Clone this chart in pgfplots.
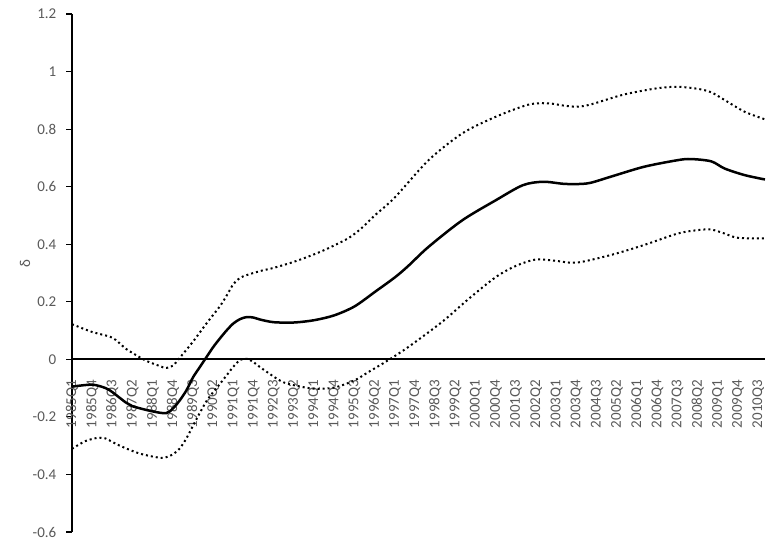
\documentclass[border=0pt]{standalone}
\usepackage{pgfplots}
\pgfplotsset{compat=1.18}
\usepackage{fontspec}
\setmainfont{Carlito}
\definecolor{lbl}{HTML}{595959}
\newcommand{\lblfont}{\fontsize{15}{18}\selectfont}
\pgfplotsset{every tick label/.append style={font=\lblfont}, every axis label/.append style={font=\lblfont}}
\begin{document}
\lblfont
\begin{tikzpicture}
\useasboundingbox (-72pt,-12pt) rectangle (697pt,532pt);
\begin{axis}[
  scale only axis, width=693pt, height=518pt,
  at={(0pt,0pt)}, anchor=south west,
  xmin=0, xmax=103, ymin=-0.6, ymax=1.2,
  axis x line*=middle, axis y line*=left,
  hide obscured x ticks=false, hide obscured y ticks=false,
  axis line style={line width=1.8pt, black},
  clip=false,
  xtick={0,3,...,102},
  xticklabels={1985Q1,1985Q4,1986Q3,1987Q2,1988Q1,1988Q4,1989Q3,1990Q2,1991Q1,1991Q4,1992Q3,1993Q2,1994Q1,1994Q4,1995Q3,1996Q2,1997Q1,1997Q4,1998Q3,1999Q2,2000Q1,2000Q4,2001Q3,2002Q2,2003Q1,2003Q4,2004Q3,2005Q2,2006Q1,2006Q4,2007Q3,2008Q2,2009Q1,2009Q4,2010Q3},
  xtick style={draw=none},
  xticklabel style={yshift=-15pt, rotate=90, anchor=east, inner sep=0pt, text=lbl},
  ytick={-0.6,-0.4,-0.2,0,0.2,0.4,0.6,0.8,1,1.2},
  yticklabels={-0.6,-0.4,-0.2,0,0.2,0.4,0.6,0.8,1,1.2},
  yticklabel style={anchor=east, inner sep=0pt, xshift=-10pt, text=lbl},
  ytick style={line width=1.2pt, black},
  tick align=outside, major tick length=5.5pt,
  ylabel={δ},
  ylabel style={at={(axis description cs:-0.0678,0.519)}, anchor=center, rotate=0, text=lbl},
]
\addplot[black, line width=2.5pt, smooth, tension=0.5] coordinates {
(0,-0.095) (3,-0.088) (5,-0.100) (6,-0.114) (8,-0.150) (9,-0.163) (12,-0.181) (14,-0.187) (15,-0.171) (16,-0.143) (17,-0.108) (18,-0.062) (19,-0.027) (20,0.008) (21,0.043) (22,0.073) (23,0.101) (24,0.125) (25,0.140) (26,0.147) (27,0.145) (28,0.138) (30,0.129) (33,0.128) (36,0.136) (39,0.153) (42,0.184) (45,0.234) (48,0.285) (50,0.325) (53,0.391) (58,0.483) (63,0.553) (67,0.605) (70,0.617) (73,0.610) (75,0.609) (77,0.613) (80,0.634) (85,0.669) (90,0.692) (92,0.696) (95,0.688) (97,0.663) (100,0.640) (103,0.625)
};
\addplot[black, line width=2pt, dash pattern=on 2pt off 3pt, smooth, tension=0.5] coordinates {
(0,0.122) (3,0.095) (6,0.075) (8,0.037) (10,0.008) (11,-0.005) (13,-0.023) (14,-0.030) (15,-0.022) (16,0.005) (18,0.062) (20,0.125) (22,0.185) (23,0.222) (24,0.262) (25,0.283) (26,0.293) (28,0.307) (30,0.318) (33,0.339) (36,0.365) (38,0.385) (41,0.420) (43,0.455) (45,0.500) (48,0.563) (53,0.692) (58,0.785) (63,0.843) (68,0.886) (71,0.889) (73,0.882) (75,0.878) (77,0.885) (82,0.920) (87,0.942) (90,0.947) (93,0.940) (95,0.928) (97,0.901) (100,0.860) (103,0.834)
};
\addplot[black, line width=2pt, dash pattern=on 2pt off 3pt, smooth, tension=0.5] coordinates {
(0,-0.311) (2,-0.284) (4,-0.272) (5,-0.275) (7,-0.299) (10,-0.327) (13,-0.342) (14,-0.340) (15,-0.330) (16,-0.310) (17,-0.275) (18,-0.230) (20,-0.145) (22,-0.085) (23,-0.055) (24,-0.025) (25,-0.002) (26,0.002) (27,-0.010) (28,-0.028) (31,-0.075) (33,-0.090) (36,-0.102) (39,-0.098) (42,-0.073) (44,-0.045) (47,-0.003) (50,0.043) (55,0.130) (59,0.211) (63,0.286) (66,0.325) (69,0.347) (72,0.342) (75,0.336) (80,0.362) (85,0.397) (90,0.437) (93,0.449) (95,0.451) (97,0.437) (99,0.422) (103,0.420)
};
\end{axis}
\end{tikzpicture}
\end{document}
